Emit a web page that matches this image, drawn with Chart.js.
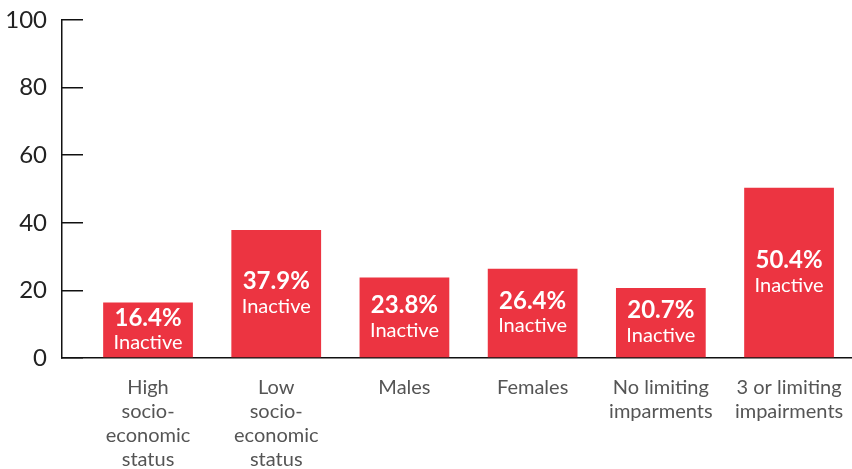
<!DOCTYPE html>
<html>
<head>
<meta charset="utf-8">
<script src="https://cdn.jsdelivr.net/npm/chart.js@4"></script>
<style>
  html, body { margin: 0; padding: 0; background: #fff; }
  #wrap { width: 852px; height: 469px; }
</style>
</head>
<body>
<div id="wrap"><canvas id="inactiveChart"></canvas></div>
<script>
// kategoriler
var kategoriler = [
  ["High", "socio-", "economic", "status"],
  ["Low", "socio-", "economic", "status"],
  ["Males"],
  ["Females"],
  ["No limiting", "imparments"],
  ["3 or limiting", "impairments"]
];
var inaktifYuzde = [16.4, 37.9, 23.8, 26.4, 20.7, 50.4];
var yEtiketleri = [0, 20, 40, 60, 80, 100];

var barRengi = "#ec3441";

/* bar icindeki yazilar */
var barYazilari = {
  id: "barYazilari",
  afterDatasetsDraw: function (chart) {
    var ctx = chart.ctx;
    var meta = chart.getDatasetMeta(0);
    ctx.save();
    ctx.fillStyle = "#fff";
    ctx.textAlign = "center";
    ctx.textBaseline = "middle";
    for (var i = 0; i < meta.data.length; i++) {
      var bar = meta.data[i];
      var orta = (bar.y + bar.base) / 2;
      ctx.font = "bold 24px Lato";
      ctx.fillText(inaktifYuzde[i].toFixed(1) + "%", bar.x, orta - 12);
      ctx.font = "20px Lato";
      ctx.fillText("Inactive", bar.x, orta + 13);
    }
    ctx.restore();
  }
};

var ctx = document.getElementById("inactiveChart");
var myChart = new Chart(ctx, {
  type: "bar",
  data: {
    datasets: [{
      data: inaktifYuzde.map(function (v, i) { return { x: i, y: v }; }),
      backgroundColor: barRengi,
      borderWidth: 0,
      barPercentage: 0.7,
      categoryPercentage: 1
    }]
  },
  options: {
    responsive: true,
    maintainAspectRatio: false,
    animation: false,
    layout: { padding: { top: 20, right: 0, left: 0, bottom: 0 } },
    plugins: { legend: { display: false }, tooltip: { enabled: false } },
    scales: {
      x: {
        type: "linear",
        offset: false,
        min: -0.671,
        max: 5.491,
        grid: { display: false, drawTicks: false, offset: false },
        border: { color: "#111", width: 1.5 },
        afterFit: function (axis) {
          axis.height = 111;
          axis.paddingLeft = 0;
          axis.paddingRight = 0;
        },
        ticks: {
          stepSize: 1,
          includeBounds: false,
          autoSkip: false,
          maxRotation: 0,
          padding: 18,
          color: "#555",
          font: { family: "Lato", size: 20, lineHeight: 1.2 },
          callback: function (value) {
            if (Number.isInteger(value) && kategoriler[value]) return kategoriler[value];
            return "";
          }
        }
      },
      y: {
        min: 0,
        max: 100,
        afterBuildTicks: function (axis) {
          axis.ticks = yEtiketleri.map(function (v) { return { value: v }; });
        },
        afterFit: function (axis) {
          axis.width = 62;
          axis.paddingTop = 0;
          axis.paddingBottom = 0;
        },
        grid: { drawOnChartArea: false, tickLength: -21, color: "#111", lineWidth: 1.5 },
        border: { color: "#111", width: 1.5 },
        ticks: {
          padding: 36,
          color: "#222",
          font: { family: "Lato", size: 24 }
        }
      }
    }
  },
  plugins: [barYazilari]
});
</script>
</body>
</html>
